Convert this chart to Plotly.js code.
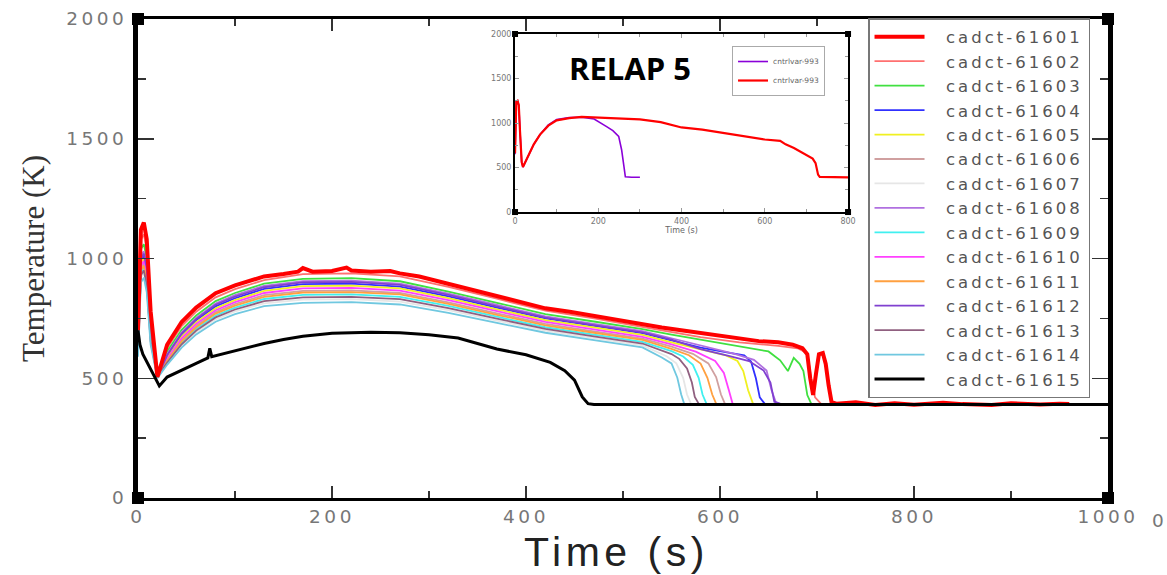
<!DOCTYPE html>
<html><head><meta charset="utf-8">
<script src="https://cdn.plot.ly/plotly-3.0.1.min.js"></script>
<style>
html,body{margin:0;padding:0;background:#fff;}
#chart{width:1167px;height:575px;}
text.legendtext[style*="16.5px"]{letter-spacing:3px;}
text[style*="18.5px"]{letter-spacing:3.5px;}
text[style*="41px"]{letter-spacing:4.5px;}
</style></head><body><div id="chart"></div><script>
// ---------- main chart data ----------
const seriesNames = ['cadct-61601','cadct-61602','cadct-61603','cadct-61604','cadct-61605','cadct-61606','cadct-61607','cadct-61608','cadct-61609','cadct-61610','cadct-61611','cadct-61612','cadct-61613','cadct-61614','cadct-61615'];
const seriesColors = ['#ff0000','#ff7070','#40e040','#3030ff','#f0f020','#d0a0a0','#e6e6e6','#b070e0','#40f0f0','#ff40ff','#ffa040','#8040d0','#906080','#70c8e0','#000000'];
const xTitle = 'Time (s)';
const yTitle = 'Temperature (K)';

const tHead = [0,3,6,9,13,20,30,45,60,80,100,130,170,220,270,320,370,420,470,520];

// cadct-61601 (own, denser time grid)
const t01 = [0,3,6,9,13,20,30,45,60,80,100,115,130,150,165,170,180,200,215,220,240,260,270,290,320,345,370,395,420,445,470,495,520,540,560,580,600,620,640,660,675,685,690,693,696,699,702,706,709,712,715,720,740,760,780,800,830,850,880,900,930,950,960];
const v01 = [700,1120,1150,1080,780,505,640,735,795,855,888,905,925,935,945,960,945,948,962,950,945,948,938,925,895,870,845,820,792,778,760,745,728,712,700,688,675,665,655,650,640,625,600,500,430,520,600,605,560,470,400,394,400,388,396,389,398,392,388,396,390,394,392];

const head02 = [690,1080,1100,1040,760,505,625,718,778,838,872,910,935,938,925,882,832,782,750,716];
const tailT02 = [540,580,620,660,680,690,694,698,704];
const tailV02 = [700,672,650,635,625,605,500,420,394];

const head03 = [680,1040,1060,1000,740,505,612,702,762,822,856,895,915,918,905,862,815,768,737,705];
const tailT03 = [550,590,620,650,662,670,676,682,686,690,694];
const tailV03 = [682,655,632,612,575,530,585,560,530,430,394];

const head04 = [650,990,1010,950,710,505,592,682,742,800,834,873,893,895,883,842,795,750,719,688];
const tailT04 = [550,580,610,625,632,637,641,646];
const tailV04 = [658,628,606,596,570,500,420,394];

const head05 = [640,980,1000,940,700,505,586,674,734,792,826,865,885,887,875,835,788,743,712,681];
const tailT05 = [550,580,605,618,624,629,634];
const tailV05 = [650,620,597,572,530,450,394];

const head06 = [620,960,980,920,680,505,576,660,719,776,810,847,865,867,856,817,771,727,696,665];
const tailT06 = [550,572,588,596,601,605];
const tailV06 = [632,602,562,505,432,394];

const head07 = [595,920,940,880,650,505,562,636,692,746,779,813,828,830,820,784,741,699,668,637];
const tailT07 = [545,555,562,566,570];
const tailV07 = [592,562,502,432,394];

const head08 = [665,1010,1030,970,725,505,600,692,752,812,847,886,905,908,895,853,806,758,727,697];
const tailT08 = [550,585,615,635,648,653,658];
const tailV08 = [667,632,602,577,532,452,394];

const head09 = [610,940,960,900,665,505,569,648,706,762,795,831,848,850,840,802,757,713,682,652];
const tailT09 = [550,562,572,578,582,586];
const tailV09 = [613,591,556,502,432,394];

const head10 = [630,970,990,930,690,505,581,667,727,784,818,856,875,877,866,826,780,735,704,673];
const tailT10 = [550,575,595,604,609,613];
const tailV10 = [641,611,572,522,452,394];

const head11 = [615,950,970,910,675,505,573,654,713,770,803,840,858,860,850,811,765,721,690,660];
const tailT11 = [550,568,580,587,592,596];
const tailV11 = [623,596,561,502,432,394];

const head12 = [660,1000,1020,960,720,505,596,687,747,807,841,880,900,902,890,848,800,753,722,692];
const tailT12 = [550,580,610,630,645,652,656,662];
const tailV12 = [661,622,592,572,532,482,402,394];

const head13 = [600,930,950,890,655,505,565,642,699,754,787,822,838,840,830,793,749,706,675,645];
const tailT13 = [550,558,566,571,574,578];
const tailV13 = [601,581,541,482,422,394];

const head14 = [590,900,920,860,640,500,556,628,683,736,768,801,815,818,808,773,731,690,659,629];
const tailT14 = [540,550,556,560,563];
const tailV14 = [587,562,502,432,394];

const t15 = [0,2,5,10,15,22,30,45,60,72,74,76,90,110,130,150,170,200,240,270,300,330,370,400,425,440,450,458,464,470,500,600,700,800,900,1000];
const v15 = [700,640,600,560,520,468,505,535,562,585,625,590,605,625,645,662,675,688,692,690,682,668,622,598,566,532,492,422,394,390,390,390,390,390,390,390];

// ---------- inset (RELAP 5) data ----------
const insetNames = ['cntrlvar-993','cntrlvar-993'];
const insetColors = ['#8a00d8','#ff0000'];
const tInsetPurple = [0,3,6,9,12,16,19,30,45,60,80,100,130,160,190,220,235,249,256,262,265,280,300];
const vInsetPurple = [650,1240,1250,1200,900,560,505,620,760,870,980,1040,1062,1065,1045,960,915,850,700,500,395,390,390];
const tInsetRed = [0,3,6,9,12,16,19,30,45,60,80,100,130,160,200,250,300,350,400,450,500,550,600,637,650,670,685,700,715,722,728,732,760,800];
const vInsetRed = [660,1240,1250,1200,900,560,505,620,760,870,970,1030,1055,1070,1062,1050,1040,1010,950,925,890,855,815,800,760,720,680,640,600,550,420,395,390,390];

const heads = [null,head02,head03,head04,head05,head06,head07,head08,head09,head10,head11,head12,head13,head14];
const tailTs = [null,tailT02,tailT03,tailT04,tailT05,tailT06,tailT07,tailT08,tailT09,tailT10,tailT11,tailT12,tailT13,tailT14];
const tailVs = [null,tailV02,tailV03,tailV04,tailV05,tailV06,tailV07,tailV08,tailV09,tailV10,tailV11,tailV12,tailV13,tailV14];

function mkTrace(i){
  let x, y;
  if (i === 0){ x = t01; y = v01; }
  else if (i < 14){ x = tHead.concat(tailTs[i]); y = heads[i].concat(tailVs[i]); }
  else { x = t15; y = v15; }
  const w = (i===0) ? 4 : (i===14 ? 3 : 1.8);
  return {type:'scatter', mode:'lines', x:x, y:y, name:'\u00a0\u00a0'+seriesNames[i],
    line:{color:seriesColors[i], width:w}, legendrank:i+1, legend:'legend', xaxis:'x', yaxis:'y'};
}
const order = [1,2,3,4,5,6,7,8,9,10,11,12,13,0,14];
const traces = order.map(mkTrace);
traces.push({type:'scatter', mode:'lines', x:tInsetPurple, y:vInsetPurple, name:insetNames[0],
  line:{color:insetColors[0], width:1.6}, xaxis:'x2', yaxis:'y2', legend:'legend2'});
traces.push({type:'scatter', mode:'lines', x:tInsetRed, y:vInsetRed, name:insetNames[1],
  line:{color:insetColors[1], width:2.2}, xaxis:'x2', yaxis:'y2', legend:'legend2'});

function sq(xr, yr, xa, ya, s){
  return {type:'rect', xref:xr, yref:yr, xsizemode:'pixel', ysizemode:'pixel', xanchor:xa, yanchor:ya,
    x0:-s, x1:s, y0:-s, y1:s, fillcolor:'#000', line:{width:0}};
}
const shapes = [
  sq('paper','paper',0,0,6), sq('paper','paper',1,0,6), sq('paper','paper',0,1,6), sq('paper','paper',1,1,6),
  sq('x2 domain','y2 domain',0,0,3), sq('x2 domain','y2 domain',1,0,3), sq('x2 domain','y2 domain',0,1,3), sq('x2 domain','y2 domain',1,1,3)
];

const tickFont = {family:'DejaVu Sans', size:18.5, color:'#777'};
const layout = {
  width:1167, height:575,
  margin:{l:138, r:59, t:19, b:77},
  paper_bgcolor:'#fff', plot_bgcolor:'#fff',
  showlegend:true,
  xaxis:{domain:[0,1], range:[0,1000], tickvals:[0,200,400,600,800,1000], ticks:'inside', ticklen:12, tickwidth:1.5, tickcolor:'#333',
    minor:{ticks:'inside', dtick:100, ticklen:7, tickwidth:1.5, tickcolor:'#333'},
    showline:true, linewidth:3, linecolor:'#000', mirror:'ticks', showgrid:false, zeroline:false,
    tickfont:tickFont, ticklabelstandoff:0},
  yaxis:{domain:[0,1], range:[0,2000], tickvals:[0,500,1000,1500,2000], ticks:'inside', ticklen:16, tickwidth:1.5, tickcolor:'#333',
    minor:{ticks:'inside', dtick:250, ticklen:8, tickwidth:1.5, tickcolor:'#333'},
    showline:true, linewidth:5, linecolor:'#000', mirror:'ticks', showgrid:false, zeroline:false,
    tickfont:tickFont, ticklabelstandoff:2,
    title:{text:yTitle, font:{family:'Liberation Serif', size:31, color:'#333'}, standoff:14}},
  xaxis2:{domain:[0.3887,0.732], anchor:'y2', range:[0,800], tickvals:[0,200,400,600,800], ticks:'inside', ticklen:4, tickcolor:'#999',
    minor:{ticks:'inside', dtick:100, ticklen:3, tickcolor:'#999'},
    showline:true, linewidth:2, linecolor:'#000', mirror:'ticks', showgrid:false, zeroline:false,
    tickfont:{family:'DejaVu Sans', size:8, color:'#777'}, ticklabelstandoff:0,
    title:{text:xTitle, font:{family:'DejaVu Sans', size:8, color:'#666'}, standoff:2}},
  yaxis2:{domain:[0.597,0.9687], anchor:'x2', range:[0,2000], tickvals:[0,500,1000,1500,2000], ticks:'inside', ticklen:4, tickcolor:'#999',
    minor:{ticks:'inside', dtick:250, ticklen:3, tickcolor:'#999'},
    showline:true, linewidth:2, linecolor:'#000', mirror:'ticks', showgrid:false, zeroline:false,
    tickfont:{family:'DejaVu Sans', size:8, color:'#777'}, ticklabelstandoff:0},
  legend:{x:0.7526, y:1.002, xanchor:'left', yanchor:'top', bgcolor:'#fff', bordercolor:'#777', borderwidth:1.5,
    font:{family:'DejaVu Sans', size:16.5, color:'#555'}, itemwidth:50, traceorder:'normal', tracegroupgap:0, maxheight:600},
  legend2:{x:0.6124, y:0.9436, xanchor:'left', yanchor:'top', bgcolor:'#fff', bordercolor:'#aaa', borderwidth:1,
    font:{family:'DejaVu Sans', size:7.5, color:'#666'}, itemwidth:30},
  shapes:shapes,
  annotations:[
    {xref:'paper', yref:'paper', x:0.4938, y:-0.1117, text:xTitle, showarrow:false,
      font:{family:'Liberation Sans', size:41, color:'#222'}, xanchor:'center', yanchor:'middle'},
    {xref:'paper', yref:'paper', x:0.507, y:0.8977, text:'<b>RELAP 5</b>', showarrow:false,
      font:{family:'Open Sans', size:31, color:'#000'}, xanchor:'center', yanchor:'middle'},
    {xref:'paper', yref:'paper', x:1.0536, y:-0.046, text:'0', showarrow:false,
      font:{family:'DejaVu Sans', size:18.5, color:'#777'}, xanchor:'center', yanchor:'middle'}
  ]
};
Plotly.newPlot('chart', traces, layout, {displayModeBar:false, staticPlot:true});
</script></body></html>
